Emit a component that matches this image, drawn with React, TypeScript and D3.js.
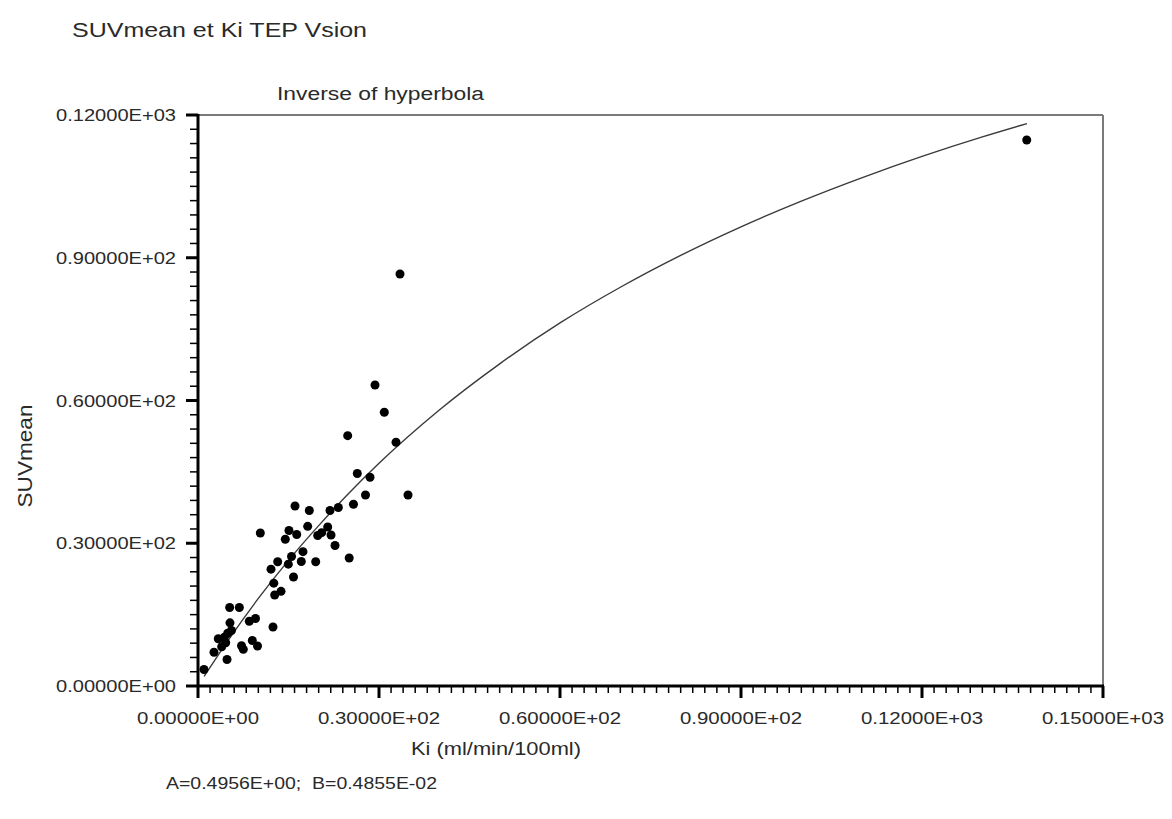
import React from 'react';
import * as d3 from 'd3';

// Scatter data: Ki (ml/min/100ml) vs SUVmean
const kiValues = [
  137.36, 33.48, 29.34, 30.88, 24.81, 32.82, 26.40, 28.51, 27.76, 34.81,
  25.77, 16.08, 18.45, 21.88, 23.26, 18.18, 10.33, 15.08, 16.36, 14.47,
  19.84, 20.50, 21.50, 22.05, 22.71, 17.40, 15.50, 14.97, 17.12, 19.51,
  25.06, 13.21, 12.10, 15.83, 12.56, 13.76, 12.71, 5.25, 6.85, 5.30,
  8.50, 9.53, 12.43, 3.36, 4.36, 4.92, 5.55, 3.93, 4.59, 7.21,
  7.51, 9.00, 9.86, 2.65, 4.81, 0.99,
];
const suvValues = [
  114.75, 86.59, 63.26, 57.52, 52.61, 51.22, 44.66, 43.86, 40.14, 40.14,
  38.19, 37.83, 36.89, 36.89, 37.52, 33.56, 32.16, 32.68, 31.84, 30.85,
  31.63, 32.22, 33.42, 31.74, 29.53, 28.23, 27.22, 25.60, 26.17, 26.12,
  26.90, 26.12, 24.55, 22.91, 21.61, 19.90, 19.13, 16.50, 16.50, 13.28,
  13.60, 14.19, 12.40, 9.94, 10.24, 11.08, 11.66, 8.26, 9.10, 8.45,
  7.71, 9.56, 8.41, 7.10, 5.57, 3.47,
];

// Fitted curve ("Inverse of hyperbola")
const fitKi = [1, 5, 10, 15, 20, 25, 30, 40, 50, 60, 70, 80, 90, 100, 110, 120, 130, 137.4];
const fitSuv = [2.0, 9.6, 18.4, 26.4, 33.7, 40.5, 46.8, 58.0, 67.7, 76.3, 83.8, 90.5, 96.5, 101.9, 106.8, 111.3, 115.4, 118.2];

const xTickValues = [0, 30, 60, 90, 120, 150];
const xTickLabels = ['0.00000E+00', '0.30000E+02', '0.60000E+02', '0.90000E+02', '0.12000E+03', '0.15000E+03'];
const yTickValues = [0, 30, 60, 90, 120];
const yTickLabels = ['0.00000E+00', '0.30000E+02', '0.60000E+02', '0.90000E+02', '0.12000E+03'];

const title = 'SUVmean et Ki TEP Vsion';
const subtitle = 'Inverse of hyperbola';
const xLabel = 'Ki (ml/min/100ml)';
const yLabel = 'SUVmean';
const footnote = 'A=0.4956E+00;  B=0.4855E-02';

const FONT = '"Liberation Sans", Arial, sans-serif';
const TXT = '#2a2a2a';

export default function App() {
  const W = 1172;
  const H = 819;
  const left = 198, right = 1103, top = 115, bottom = 686;
  const x = d3.scaleLinear().domain([0, 150]).range([left, right]);
  const y = d3.scaleLinear().domain([0, 120]).range([bottom, top]);

  const xMinor = x.ticks(50).filter((v) => xTickValues.indexOf(v) < 0);
  const yMinor = d3.range(0, 121, 3).filter((v) => yTickValues.indexOf(v) < 0);

  const line = d3
    .line<number>()
    .x((_, i) => x(fitKi[i]))
    .y((d) => y(d))
    .curve(d3.curveMonotoneX);

  return (
    <svg
      width={W}
      height={H}
      style={{ position: 'absolute', left: 0, top: 0, background: '#fff' }}
      fontFamily={FONT}
    >
      <rect x={0} y={0} width={W} height={H} fill="#fff" />
      <text x={72} y={37} fontSize={21} fill={TXT} textLength={295} lengthAdjust="spacingAndGlyphs">
        {title}
      </text>
      <text x={277} y={100} fontSize={18} fill={TXT} textLength={207} lengthAdjust="spacingAndGlyphs">
        {subtitle}
      </text>

      {/* frame: top and right grey */}
      <line x1={left} x2={right} y1={top} y2={top} stroke="#7a7a7a" strokeWidth={2} />
      <line x1={right} x2={right} y1={top} y2={bottom} stroke="#7a7a7a" strokeWidth={2} />

      {/* fitted curve */}
      <path d={line(fitSuv) || ''} fill="none" stroke="#3a3a3a" strokeWidth={1.4} />

      {/* points */}
      {kiValues.map((k, i) => (
        <circle key={i} cx={x(k)} cy={y(suvValues[i])} r={4.5} fill="#000" />
      ))}

      {/* y axis */}
      <line x1={left} x2={left} y1={top - 1} y2={bottom + 1} stroke="#000" strokeWidth={3} />
      {yMinor.map((v) => (
        <line key={'ym' + v} x1={left - 8} x2={left} y1={y(v)} y2={y(v)} stroke="#000" strokeWidth={1.5} />
      ))}
      {yTickValues.map((v, i) => (
        <g key={'yt' + v}>
          <line x1={left - 12} x2={left} y1={y(v)} y2={y(v)} stroke="#000" strokeWidth={3} />
          <text
            x={176}
            y={y(v)}
            dy="0.36em"
            textAnchor="end"
            fontSize={17}
            fill={TXT}
            textLength={120}
            lengthAdjust="spacingAndGlyphs"
          >
            {yTickLabels[i]}
          </text>
        </g>
      ))}

      {/* x axis */}
      <line x1={left - 1} x2={right + 1} y1={bottom} y2={bottom} stroke="#000" strokeWidth={3} />
      {xMinor.map((v) => (
        <line key={'xm' + v} x1={x(v)} x2={x(v)} y1={bottom} y2={bottom + 7} stroke="#000" strokeWidth={1.5} />
      ))}
      {xTickValues.map((v, i) => (
        <g key={'xt' + v}>
          <line x1={x(v)} x2={x(v)} y1={bottom} y2={bottom + 12} stroke="#000" strokeWidth={3} />
          <text
            x={x(v)}
            y={724}
            textAnchor="middle"
            fontSize={17}
            fill={TXT}
            textLength={122}
            lengthAdjust="spacingAndGlyphs"
          >
            {xTickLabels[i]}
          </text>
        </g>
      ))}

      <text x={496} y={755} textAnchor="middle" fontSize={19} fill={TXT} textLength={170} lengthAdjust="spacingAndGlyphs">
        {xLabel}
      </text>
      <text
        transform="translate(32,456) rotate(-90)"
        textAnchor="middle"
        fontSize={20}
        fill={TXT}
        textLength={103}
        lengthAdjust="spacingAndGlyphs"
      >
        {yLabel}
      </text>
      <text
        x={166}
        y={789}
        fontSize={16}
        fill={TXT}
        textLength={271}
        lengthAdjust="spacingAndGlyphs"
        style={{ whiteSpace: 'pre' }}
      >
        {footnote}
      </text>
    </svg>
  );
}
